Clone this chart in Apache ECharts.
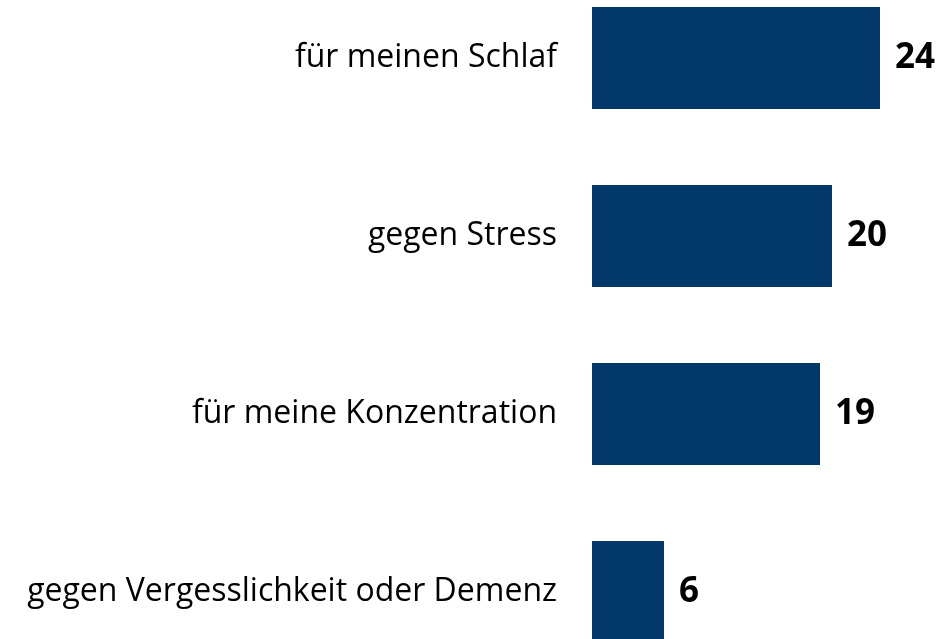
<!DOCTYPE html>
<html>
<head>
<meta charset="utf-8">
<script src="https://cdn.jsdelivr.net/npm/echarts@6/dist/echarts.min.js"></script>
<style>
  html, body { margin: 0; padding: 0; background: #ffffff; overflow: hidden; width: 945px; height: 639px; }
  /* Canvas is taller than the window so the last bar runs off the bottom edge */
  #chart { position: absolute; left: 0; top: -31px; width: 945px; height: 712px; }
</style>
</head>
<body>
<div id="chart"></div>
<script>
// Categories, top to bottom
const categories = [
  'für meinen Schlaf',
  'gegen Stress',
  'für meine Konzentration',
  'gegen Vergesslichkeit oder Demenz'
];
// Share values (%)
const values = [24, 20, 19, 6];

const chart = echarts.init(document.getElementById('chart'));
chart.setOption({
  animation: false,
  backgroundColor: '#ffffff',
  grid: { left: 592, right: 5, top: 0, bottom: 0, containLabel: false },
  xAxis: {
    type: 'value', min: 0, max: 29,
    show: false
  },
  yAxis: {
    type: 'category',
    data: categories,
    inverse: true,
    axisLine: { show: false },
    axisTick: { show: false },
    splitLine: { show: false },
    axisLabel: {
      margin: 35,
      color: '#000000',
      fontFamily: 'Open Sans',
      fontSize: 32
    }
  },
  series: [{
    type: 'bar',
    data: values,
    barWidth: 102,
    itemStyle: { color: '#03386A' },
    label: {
      show: true,
      position: 'right',
      distance: 15,
      color: '#000000',
      fontFamily: 'Open Sans',
      fontWeight: 'bold',
      fontSize: 35
    }
  }]
});
</script>
</body>
</html>
